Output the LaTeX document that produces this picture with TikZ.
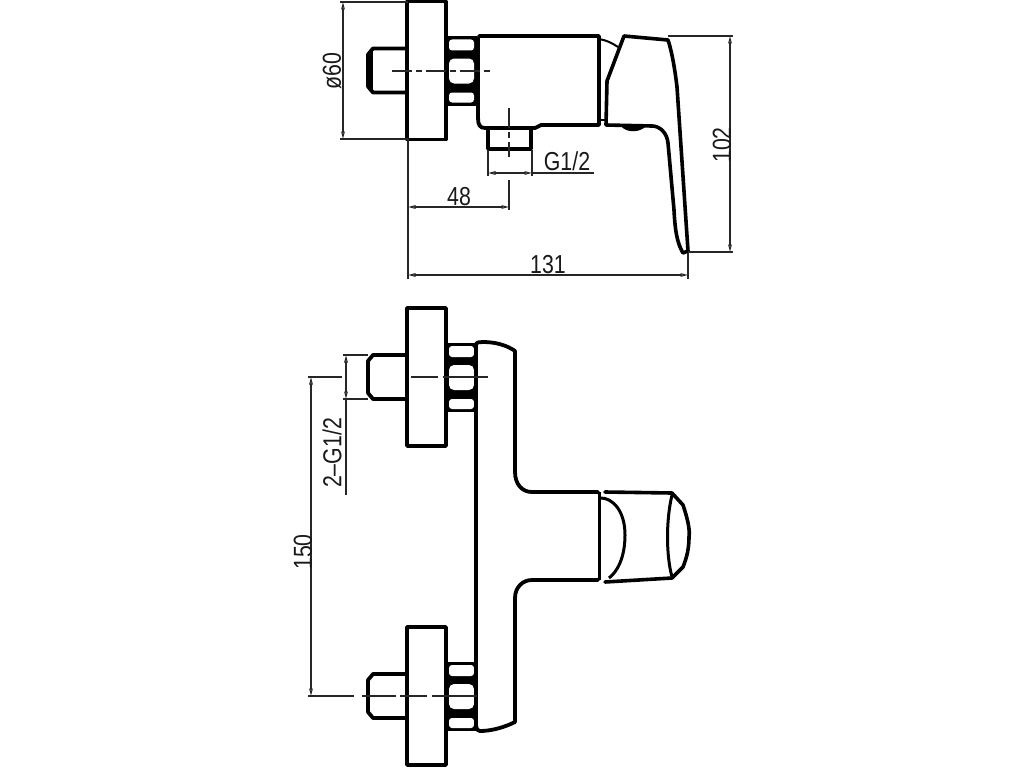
\documentclass[tikz,border=0pt]{standalone}
\usepackage{fontspec}
\newfontfamily\dimfont[FakeStretch=0.82]{Liberation Sans}
\usetikzlibrary{arrows.meta,positioning}
\begin{document}
\begin{tikzpicture}[
    x=1pt, y=-1pt,
    outline/.style={line width=3.8pt, line join=round, line cap=round},
    handle/.style={line width=3.6pt, line join=round, line cap=round},
    thinline/.style={line width=1.1pt, black!85},
    centerline/.style={line width=1.1pt, black!85, dash pattern=on 20pt off 4pt on 6pt off 4pt},
    dim/.style={line width=1.1pt, black!85, {Triangle[open,length=7.5pt,width=3.5pt]}-{Triangle[open,length=7.5pt,width=3.5pt]}},
    dimlabel/.style={font=\dimfont\fontsize{26}{26}\selectfont, inner sep=0pt, text=black!90}
]
    \useasboundingbox (0,0) rectangle (1024,768);

    % wall plate, stud and nut, three times
    \foreach \dy in {-306.5,0,319} {
        \begin{scope}[yshift=-\dy pt]
            \fill (446,343) rectangle (477,412);
            \fill[white, rounded corners=3pt] (449,346) rectangle (474,357);
            \fill[white, rounded corners=5pt] (449,365) rectangle (474,390);
            \fill[white, rounded corners=3pt] (449,399) rectangle (474,409);
            \draw[outline, fill=white] (407,308) rectangle (446,446);
            \draw[outline] (407,355) -- (373,355) -- (368,361) -- (368,393) -- (373,399) -- (407,399);
        \end{scope}
    }
    \draw[line width=3pt] (371,52) -- (371,90);

    % side view, body
    \draw[outline] (478,38) -- (478,118) .. controls (478,125) and (480,128) .. (485,128) -- (535,128) -- (541,125) -- (599,125) -- (599,36) -- (479,36);
    \draw[line width=2pt] (599,39) .. controls (606,40) and (612,43) .. (618,47);
    \draw[line width=1.6pt] (599,120) -- (606,120);
    \draw[outline] (488,128) -- (488,149) -- (531,149) -- (531,128);

    % side view, lever
    \draw[handle] (624,36) -- (668,40) .. controls (672,52) and (675,70) .. (677,87) -- (688,251) -- (683,253) .. controls (677,243) and (675,230) .. (674,210) -- (668,143) .. controls (667,133) and (660,126) .. (652,126) -- (606,125) -- (607,81) -- cycle;
    \fill (621,126) .. controls (626,133) and (640,133) .. (646,126) -- cycle;

    % front view, body
    \draw[outline] (476,345) .. controls (476,342) and (480,342) .. (483,342) .. controls (497,342) and (508,346) .. (515,351) -- (515,472) .. controls (515,484) and (522,492) .. (532,492) -- (598,492);
    \draw[outline] (598,580) -- (532,580) .. controls (522,580) and (515,588) .. (515,598) -- (515,722) .. controls (505,727) and (492,731) .. (480,731) .. controls (478,731) and (476,729) .. (476,726) -- (476,345);
    \draw[line width=3pt] (599,492) -- (599,580);

    % front view, lever
    \draw[handle] (605,492) -- (672,493) -- (683,505) .. controls (688,520) and (690,530) .. (689,537) .. controls (689,548) and (687,557) .. (683,567) -- (672,578) -- (605,582);
    \draw[line width=3pt] (601,498) .. controls (612,498) and (625,510) .. (625,535) .. controls (625,558) and (617,572) .. (609,578);
    \draw[line width=3pt] (672,495) .. controls (666,520) and (666,555) .. (672,577);

    % center lines
    \draw[centerline] (392,71) -- (493,71);
    \draw[centerline] (509,108) -- (509,157);
    \draw[thinline, dash pattern=on 27pt off 5pt on 45pt off 5pt on 45pt] (411,377) -- (488,377);
    \draw[thinline, dash pattern=on 34pt off 4pt on 27pt off 5pt on 45pt] (362,696) -- (488,696);

    % side view, dimensions
    \draw[thinline] (340,2) -- (408,2) (340,139) -- (408,139);
    \draw[dim] (343,2) -- (343,139);
    \node[dimlabel, rotate=90] (dia) at (332,71) {ø60};
    \draw[thinline] (408,138) -- (408,279) (509,180) -- (509,210);
    \draw[dim] (408,207) -- (509,207);
    \node[dimlabel] (dist) at (459,197) {48};
    \draw[thinline] (488,150) -- (488,176) (532,150) -- (532,176);
    \draw[dim] (488,173) -- (532,173);
    \draw[thinline] (532,173) -- (594,173);
    \node[dimlabel, above=2.5pt of {(567,173)}] (thread) {G1/2};
    \draw[thinline] (668,36) -- (733,36) (688,252) -- (733,252);
    \draw[dim] (730,36) -- (730,252);
    \node[dimlabel, rotate=90] (height) at (722,145) {102};
    \draw[thinline] (688,253) -- (688,279);
    \draw[dim] (408,275) -- (688,275);
    \node[dimlabel] (length) at (548,265) {131};

    % front view, dimensions
    \draw[thinline] (308,377) -- (342,377) (308,696) -- (354,696);
    \draw[dim] (311,377) -- (311,696);
    \node[dimlabel, rotate=90] (pitch) at (303,552) {150};
    \draw[thinline] (343,355) -- (368,355) (343,399) -- (368,399);
    \draw[dim] (346,355) -- (346,399);
    \draw[thinline] (346,399) -- (346,495);
    \node[dimlabel, rotate=90] (threads) at (332,453) {2–G1/2};
\end{tikzpicture}
\end{document}
